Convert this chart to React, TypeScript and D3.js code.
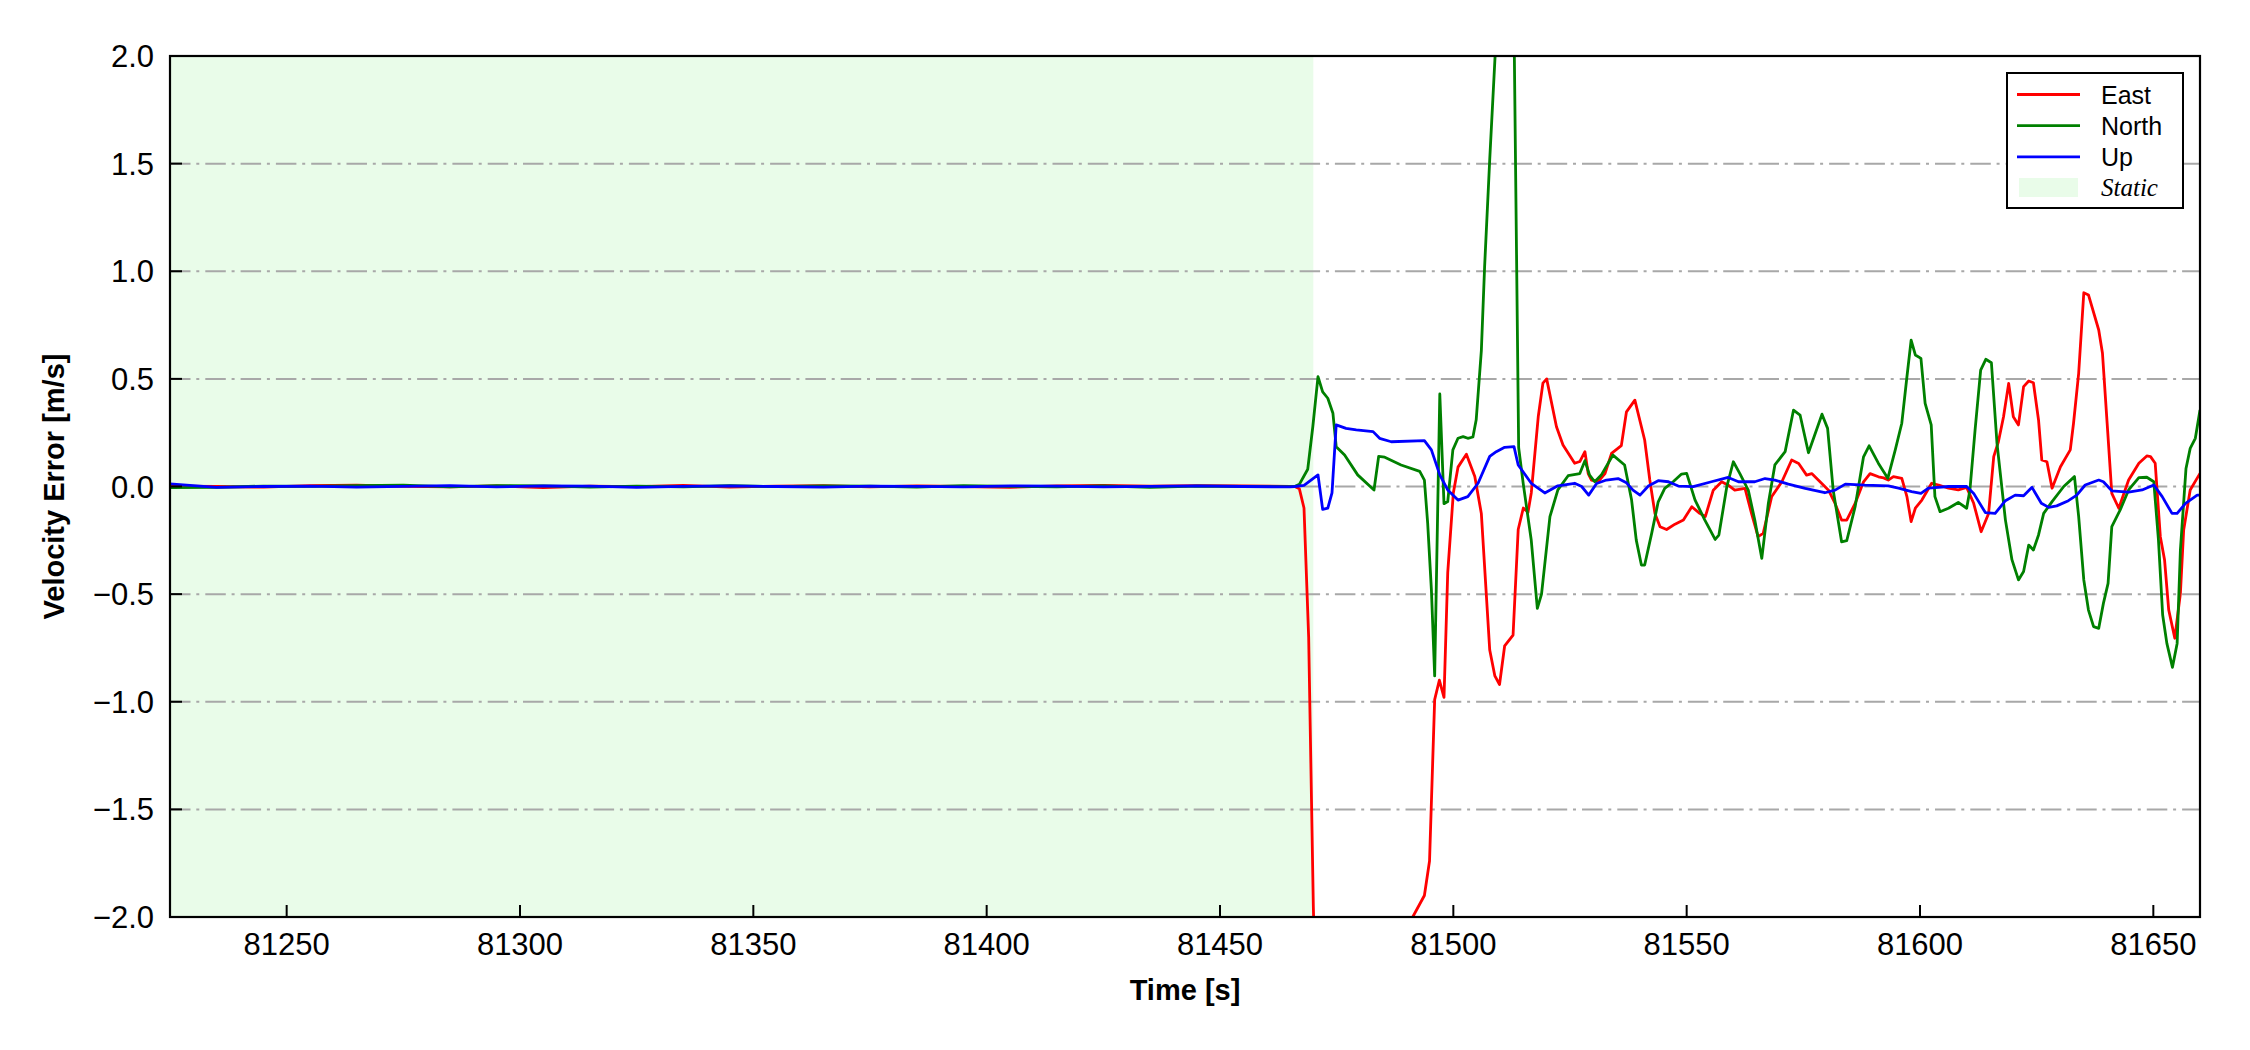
import React from 'react';
import * as d3 from 'd3';

const W = 2250;
const H = 1050;
const PL = 170, PR = 2200, PT = 56, PB = 917;

const xDomain: [number, number] = [81225, 81660];
const yDomain: [number, number] = [-2, 2];
const xTicks = [81250, 81300, 81350, 81400, 81450, 81500, 81550, 81600, 81650];
const yTicks = [-2.0, -1.5, -1.0, -0.5, 0.0, 0.5, 1.0, 1.5, 2.0];
const staticSpan: [number, number] = [81225, 81470];

const seriesNames = ['East', 'North', 'Up'];
const seriesColors = ['#ff0000', '#008000', '#0000ff'];

// static segment, 10 s spacing
const staticTimes = [81225, 81235, 81245, 81255, 81265, 81275, 81285, 81295, 81305, 81315, 81325, 81335, 81345,
  81355, 81365, 81375, 81385, 81395, 81405, 81415, 81425, 81435, 81445, 81455, 81465];
const eastStatic = [0.002, 0.0, -0.003, 0.004, 0.006, 0.001, -0.002, 0.003, -0.005, 0.002, -0.001, 0.005, -0.003,
  0.002, 0.004, -0.002, 0.003, 0.0, -0.004, 0.003, 0.005, 0.002, 0.004, 0.003, 0.001];
const northStatic = [-0.005, -0.004, 0.002, 0.001, 0.004, 0.006, -0.002, 0.004, 0.003, -0.003, 0.002, -0.002, 0.004,
  -0.001, 0.003, 0.002, -0.003, 0.004, 0.001, -0.002, 0.003, -0.004, 0.002, 0.0, -0.001];
const upStatic = [0.012, -0.004, 0.0, 0.002, -0.003, 0.001, 0.004, -0.002, 0.003, 0.002, -0.004, 0.001, 0.003,
  0.0, -0.003, 0.002, 0.001, -0.002, 0.003, 0.002, -0.002, 0.001, 0.003, 0.0, -0.002];

// dynamic segment [time, value]
const eastDynamic: [number, number][] = [
  [81466, 0.0], [81467, -0.01], [81468, -0.1], [81469, -0.7], [81470, -1.95], [81471, -2.8], [81476, -3.2],
  [81482, -3.0], [81487, -2.6], [81489, -2.25], [81490.3, -2.06], [81491.3, -2.0], [81493.8, -1.9],
  [81494.9, -1.74], [81496, -0.99], [81497, -0.9], [81498, -0.98], [81498.8, -0.4], [81500, -0.03],
  [81501, 0.09], [81502.8, 0.15], [81504.6, 0.046], [81506, -0.125], [81507.8, -0.76], [81508.9, -0.88],
  [81509.9, -0.92], [81511, -0.74], [81512.8, -0.69], [81513.9, -0.2], [81515, -0.1], [81516, -0.12],
  [81516.7, -0.03], [81518.2, 0.325], [81519.2, 0.48], [81520, 0.5], [81522.1, 0.278], [81523.5, 0.193],
  [81526, 0.108], [81527.1, 0.116], [81528.2, 0.162], [81528.9, 0.06], [81529.6, 0.03], [81531, 0.022],
  [81532.5, 0.06], [81533.9, 0.154], [81536, 0.19], [81537.1, 0.347], [81538.9, 0.401], [81541, 0.216],
  [81542.1, 0.03], [81543.2, -0.125], [81544.3, -0.187], [81545.7, -0.2], [81547.5, -0.175], [81549.3, -0.156],
  [81551.1, -0.094], [81552.8, -0.125], [81554, -0.14], [81555.7, -0.017], [81557.5, 0.022], [81558.9, 0.006],
  [81560.3, -0.017], [81562.5, -0.009], [81563.9, -0.125], [81565.3, -0.233], [81566.4, -0.218],
  [81568.2, -0.048], [81570.4, 0.022], [81572.5, 0.123], [81574, 0.107], [81575.7, 0.053], [81576.8, 0.06],
  [81578.2, 0.03], [81580.4, -0.017], [81581.8, -0.079], [81583.2, -0.156], [81584.3, -0.156],
  [81586.1, -0.079], [81587.9, 0.022], [81589.3, 0.06], [81591.1, 0.045], [81592.2, 0.04], [81593.2, 0.03],
  [81594.3, 0.046], [81596.1, 0.038], [81597.2, -0.047], [81598.1, -0.163], [81599, -0.101], [81600.4, -0.063],
  [81602.5, 0.015], [81604, 0.007], [81606.1, -0.008], [81608.2, -0.016], [81610, -0.004], [81611.5, -0.078],
  [81613.1, -0.21], [81614.7, -0.125], [81615.8, 0.139], [81616.8, 0.208], [81617.9, 0.324], [81619, 0.479],
  [81620, 0.324], [81621.1, 0.286], [81622.2, 0.464], [81623.3, 0.49], [81624.3, 0.482], [81625.4, 0.309],
  [81626.1, 0.123], [81627.2, 0.115], [81628.3, -0.008], [81630.1, 0.092], [81632.2, 0.17], [81632.9, 0.294],
  [81634, 0.526], [81635.1, 0.9], [81636.1, 0.89], [81638.3, 0.727], [81639.1, 0.619], [81640.1, 0.294],
  [81641.1, -0.032], [81642.6, -0.101], [81644.7, 0.03], [81646.9, 0.108], [81648.6, 0.142], [81649.4, 0.139],
  [81650.4, 0.108], [81651.5, -0.233], [81652.4, -0.34], [81653.3, -0.574], [81654.6, -0.705],
  [81655.8, -0.496], [81656.5, -0.202], [81657.9, -0.016], [81660, 0.061],
];

const northDynamic: [number, number][] = [
  [81466, 0.0], [81467, 0.01], [81468.8, 0.08], [81469.9, 0.28], [81471, 0.51], [81472, 0.44], [81473.1, 0.41],
  [81474.2, 0.34], [81474.9, 0.185], [81476.7, 0.146], [81479.5, 0.054], [81483, -0.016], [81484, 0.14],
  [81485.3, 0.136], [81488.8, 0.1], [81492.8, 0.07], [81493.8, 0.03], [81494.5, -0.17], [81495.3, -0.48],
  [81496, -0.88], [81497.1, 0.43], [81498, -0.08], [81498.8, -0.07], [81499.9, 0.17], [81501, 0.224],
  [81502.1, 0.232], [81503.1, 0.224], [81504.2, 0.23], [81504.9, 0.31], [81506, 0.63], [81506.7, 1.02],
  [81507.8, 1.52], [81508.9, 1.98], [81510, 2.4], [81511.5, 2.6], [81513, 2.15], [81514, 0.18], [81515, 0.01],
  [81516.7, -0.25], [81518, -0.566], [81518.9, -0.5], [81520.7, -0.14], [81522.4, -0.016], [81524.6, 0.05],
  [81527.1, 0.06], [81528.2, 0.12], [81529.2, 0.053], [81530.3, 0.022], [81531.7, 0.053], [81534.2, 0.146],
  [81536.7, 0.1], [81538.2, -0.063], [81539.2, -0.249], [81540.3, -0.365], [81541, -0.365], [81542.5, -0.218],
  [81543.9, -0.071], [81545.3, -0.009], [81547.1, 0.022], [81548.9, 0.058], [81550, 0.061], [81551.8, -0.063],
  [81553.9, -0.156], [81556.1, -0.246], [81556.9, -0.226], [81558.6, -0.001], [81560, 0.115], [81561.4, 0.06],
  [81563.2, -0.017], [81564.6, -0.156], [81566.1, -0.334], [81567.5, -0.079], [81568.9, 0.1], [81571.1, 0.162],
  [81572.9, 0.355], [81574.3, 0.332], [81576.1, 0.157], [81579, 0.336], [81580.2, 0.27], [81581.4, -0.017],
  [81583.2, -0.257], [81584.3, -0.252], [81586.1, -0.094], [81587.9, 0.138], [81589.1, 0.189],
  [81591.1, 0.107], [81593.1, 0.038], [81594.7, 0.17], [81596.1, 0.294], [81597.2, 0.51], [81598.1, 0.68],
  [81599, 0.611], [81600.2, 0.595], [81601.1, 0.386], [81602.4, 0.286], [81603.2, -0.047], [81604.3, -0.117],
  [81606.1, -0.101], [81608.2, -0.074], [81610, -0.101], [81610.7, -0.016], [81611.8, 0.262], [81613, 0.541],
  [81614.1, 0.591], [81615.3, 0.575], [81616.5, 0.2], [81618.3, -0.155], [81619.7, -0.34], [81621.1, -0.434],
  [81622.2, -0.395], [81623.3, -0.272], [81624.3, -0.295], [81625.4, -0.225], [81626.5, -0.125],
  [81628.3, -0.07], [81630.8, 0.0], [81633.1, 0.046], [81634, -0.14], [81635.1, -0.434], [81636.1, -0.574],
  [81637.2, -0.651], [81638.3, -0.659], [81639.3, -0.543], [81640.3, -0.45], [81641.1, -0.186],
  [81642.9, -0.109], [81644.7, -0.016], [81646.9, 0.041], [81648.6, 0.043], [81650.1, 0.022], [81651.1, -0.249],
  [81652, -0.597], [81652.9, -0.729], [81654.1, -0.84], [81655.1, -0.729], [81655.8, -0.295], [81657, 0.084],
  [81657.9, 0.177], [81659, 0.224], [81660, 0.355],
];

const upDynamic: [number, number][] = [
  [81466, 0.0], [81468, 0.005], [81471, 0.054], [81472, -0.106], [81473.1, -0.1], [81474, -0.03],
  [81474.9, 0.286], [81477, 0.27], [81479.2, 0.263], [81482.8, 0.255], [81484.2, 0.224], [81486.7, 0.208],
  [81493.8, 0.213], [81495.3, 0.17], [81497.1, 0.054], [81498.8, -0.016], [81501, -0.063], [81503.1, -0.047],
  [81505.3, 0.015], [81507.8, 0.14], [81509.2, 0.162], [81511, 0.182], [81513, 0.185], [81513.9, 0.1],
  [81516.7, 0.015], [81519.6, -0.03], [81522.4, 0.003], [81526, 0.015], [81527.5, 0.0], [81529, -0.04],
  [81530.7, 0.014], [81532.8, 0.03], [81535.3, 0.037], [81537.1, 0.017], [81538.5, -0.017], [81540, -0.04],
  [81541.8, 0.002], [81543.9, 0.027], [81546.1, 0.022], [81548.2, 0.002], [81551.4, -0.001], [81555.3, 0.022],
  [81558.9, 0.042], [81561.1, 0.022], [81564.6, 0.022], [81566.8, 0.037], [81568.9, 0.03], [81571.8, 0.011],
  [81575.4, -0.009], [81579.6, -0.029], [81581.8, -0.017], [81584, 0.011], [81588.2, 0.006], [81593.2, 0.003],
  [81595.4, -0.008], [81598.2, -0.024], [81600.2, -0.032], [81601.8, -0.008], [81606.1, 0.0], [81610, 0.0],
  [81611.5, -0.032], [81614, -0.121], [81616.1, -0.125], [81618.3, -0.066], [81620.4, -0.04], [81622.2, -0.043],
  [81624, -0.004], [81626, -0.078], [81627.6, -0.097], [81629.3, -0.09], [81631.8, -0.066], [81633.6, -0.04],
  [81635.4, 0.007], [81638.3, 0.03], [81639.3, 0.022], [81641.1, -0.02], [81644.7, -0.026], [81647.6, -0.016],
  [81650.1, 0.007], [81651.9, -0.047], [81654, -0.125], [81655.1, -0.125], [81656.9, -0.078], [81659.4, -0.04],
  [81660.4, -0.04],
];

const combine = (vals: number[], dyn: [number, number][]): [number, number][] =>
  staticTimes.map((t, i) => [t, vals[i]] as [number, number]).concat(dyn);

const seriesData = [
  combine(eastStatic, eastDynamic),
  combine(northStatic, northDynamic),
  combine(upStatic, upDynamic),
];

const FONT = '"Liberation Sans", Arial, sans-serif';

export default function App() {
  const x = d3.scaleLinear().domain(xDomain).range([PL, PR]);
  const y = d3.scaleLinear().domain(yDomain).range([PB, PT]);
  const line = d3.line<[number, number]>().x(d => x(d[0])).y(d => y(d[1]));
  const fmt = (v: number) => d3.format('.1f')(v).replace('-', '\u2212');

  const legX = 2007, legY = 73, legW = 176, legH = 135;
  const rowY = [94.5, 125.7, 156.9];

  return (
    <svg width={W} height={H} style={{ position: 'absolute', left: 0, top: 0, background: '#fff' }}>
      <defs>
        <clipPath id="plotClip">
          <rect x={PL} y={PT} width={PR - PL} height={PB - PT} />
        </clipPath>
      </defs>
      <rect x={0} y={0} width={W} height={H} fill="#fff" />
      <rect x={x(staticSpan[0])} y={PT} width={x(staticSpan[1]) - x(staticSpan[0])} height={PB - PT} fill="#e9fce9" />
      {yTicks.filter(v => v > -2 && v < 2).map(v => (
        <line key={'g' + v} x1={PL} x2={PR} y1={y(v)} y2={y(v)} stroke="#a8a8a8" strokeWidth={2}
          strokeDasharray="20.5,5.8,3,6" />
      ))}
      <g clipPath="url(#plotClip)">
        {seriesData.map((d, i) => (
          <path key={seriesNames[i]} d={line(d) || ''} fill="none" stroke={seriesColors[i]} strokeWidth={2.8}
            strokeLinejoin="round" />
        ))}
      </g>
      {xTicks.map(t => (
        <g key={'x' + t}>
          <line x1={x(t)} x2={x(t)} y1={PB} y2={PB - 12} stroke="#000" strokeWidth={2} />
          <text x={x(t)} y={955} fontFamily={FONT} fontSize={31} textAnchor="middle" fill="#000">{t}</text>
        </g>
      ))}
      {yTicks.map(v => (
        <g key={'y' + v}>
          <line x1={PL} x2={PL + 12} y1={y(v)} y2={y(v)} stroke="#000" strokeWidth={2} />
          <text x={154} y={y(v) + 11} fontFamily={FONT} fontSize={31} textAnchor="end" fill="#000">{fmt(v)}</text>
        </g>
      ))}
      <rect x={PL} y={PT} width={PR - PL} height={PB - PT} fill="none" stroke="#000" strokeWidth={2.2} />
      <text x={(PL + PR) / 2} y={1000} fontFamily={FONT} fontSize={29} fontWeight="bold" textAnchor="middle">Time [s]</text>
      <text transform={`translate(64,${(PT + PB) / 2}) rotate(-90)`} fontFamily={FONT} fontSize={29}
        fontWeight="bold" textAnchor="middle">Velocity Error [m/s]</text>
      <g>
        <rect x={legX} y={legY} width={legW} height={legH} fill="#fff" stroke="#000" strokeWidth={2} />
        {seriesNames.map((n, i) => (
          <g key={'l' + n}>
            <line x1={2017} x2={2080} y1={rowY[i]} y2={rowY[i]} stroke={seriesColors[i]} strokeWidth={2.8} />
            <text x={2101} y={rowY[i] + 9} fontFamily={FONT} fontSize={25}>{n}</text>
          </g>
        ))}
        <rect x={2019} y={178} width={59} height={19} fill="#e9fce9" />
        <text x={2101} y={196} fontFamily='"Liberation Serif", "Times New Roman", serif' fontStyle="italic"
          fontSize={25}>Static</text>
      </g>
    </svg>
  );
}
